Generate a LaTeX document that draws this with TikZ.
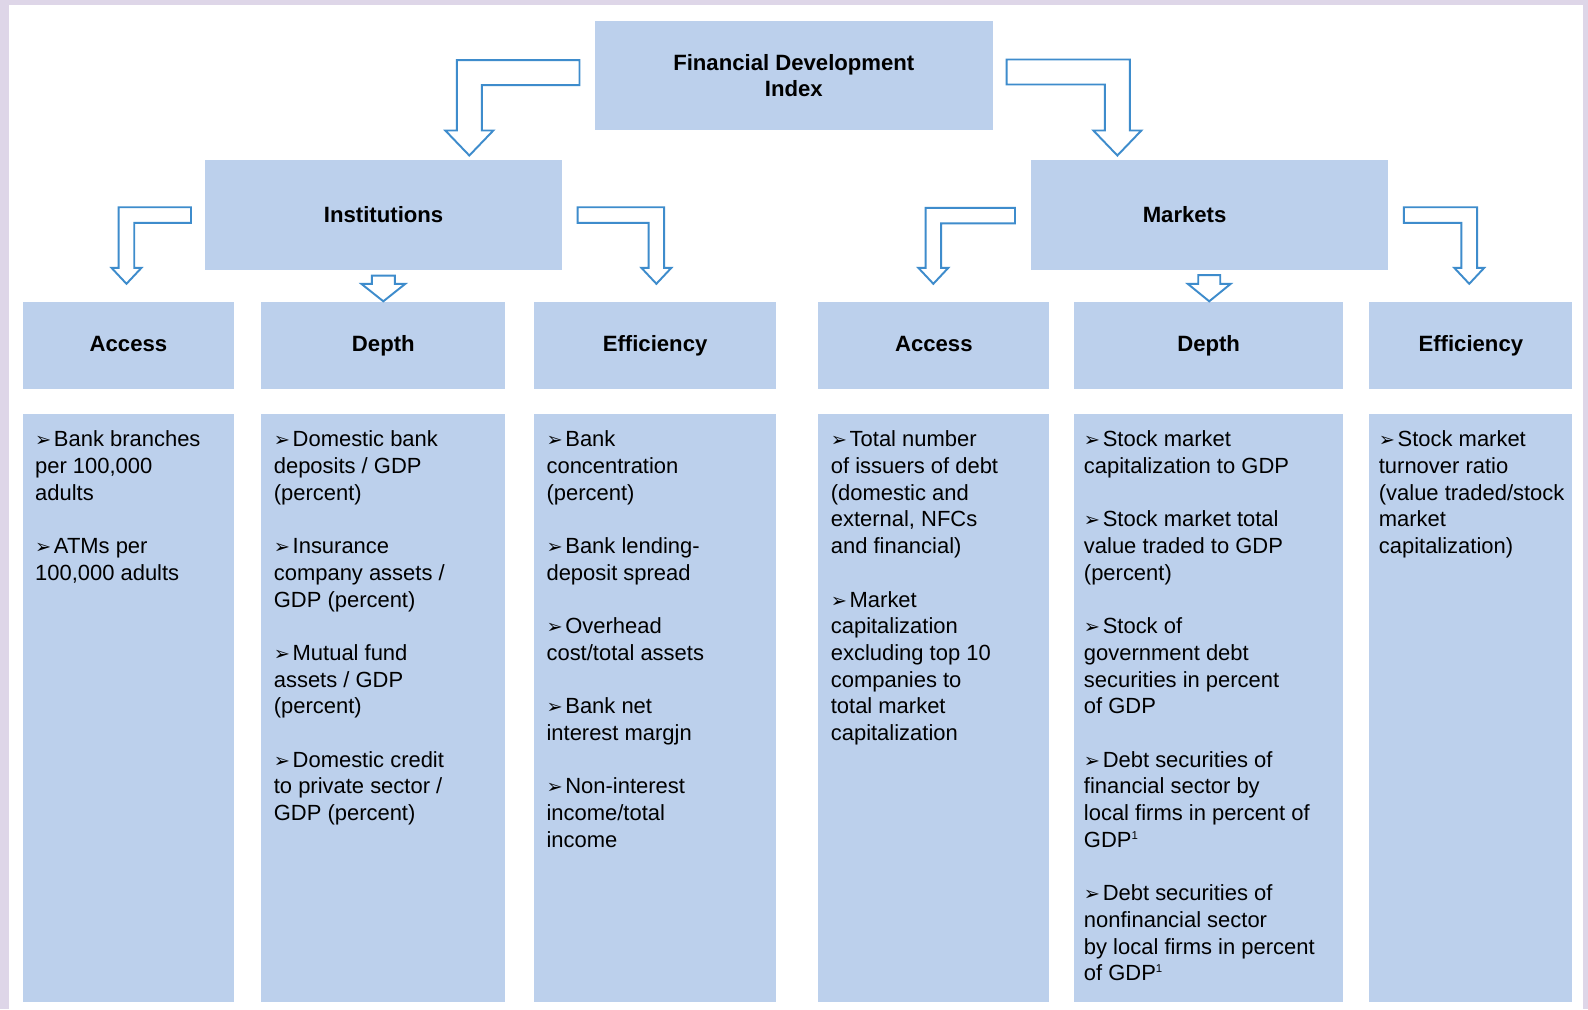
\documentclass[tikz,border=0pt]{standalone}
\usepackage{fontspec}
\setmainfont{Liberation Sans}
\newfontfamily\dingfont{DejaVu Sans}
\usetikzlibrary{calc}

\definecolor{boxblue}{RGB}{188,208,236}
\definecolor{arrowblue}{RGB}{62,140,204}
\definecolor{framelilac}{RGB}{222,214,232}

\newcommand{\pxu}{0.569055pt}
\newcommand{\itm}{{\dingfont\fontsize{11}{8}\selectfont ➢}\hspace{1.5pt}}
\newcommand{\fnote}{{\fontsize{6.5}{6}\selectfont\raisebox{4.5pt}{1}}}

% hollow bent arrow: start of bar, tip, half shaft, half head, head length
\newcommand{\bentarrow}[5]{%
  \draw[blockarrow] let \p1=(#1), \p2=(#2), \n1={sign(\x1-\x2)},
    \n2={#3*\pxu}, \n3={#4*\pxu}, \n4={#5*\pxu} in
    (\x1,{\y1+\n2}) -- ({\x2-(\n1)*\n2},{\y1+\n2}) -- ({\x2-(\n1)*\n2},{\y2+\n4})
    -- ({\x2-(\n1)*\n3},{\y2+\n4}) -- (\x2,\y2) -- ({\x2+(\n1)*\n3},{\y2+\n4})
    -- ({\x2+(\n1)*\n2},{\y2+\n4}) -- ({\x2+(\n1)*\n2},{\y1-\n2}) -- (\x1,{\y1-\n2}) -- cycle;}
% hollow straight arrow down
\newcommand{\droparrow}[5]{%
  \draw[blockarrow] let \p1=(#1), \p2=(#2),
    \n2={#3*\pxu}, \n3={#4*\pxu}, \n4={#5*\pxu} in
    ({\x2-\n2},\y1) -- ({\x2+\n2},\y1) -- ({\x2+\n2},{\y2+\n4}) -- ({\x2+\n3},{\y2+\n4})
    -- (\x2,\y2) -- ({\x2-\n3},{\y2+\n4}) -- ({\x2-\n2},{\y2+\n4}) -- cycle;}

\tikzset{
  box/.style={fill=boxblue, inner sep=0pt, anchor=north west, align=center,
    font=\fontsize{12.6}{15}\selectfont\bfseries},
  head/.style={box, minimum height=1.744cm, text height=9pt, text depth=2.6pt},
  listtxt/.style={inner sep=0pt, anchor=north west, align=left,
    font=\fontsize{12.5}{15.2}\selectfont},
  blockarrow/.style={draw=arrowblue, fill=white, line width=1.1pt}
}

\begin{document}
\begin{tikzpicture}[x=0.02cm,y=-0.02cm]
\fill[framelilac] (0,0) rectangle (1588,1009);
\fill[white] (9,4.5) rectangle (1583,1009);
\useasboundingbox (0,0) rectangle (1588,1009);

\node[box, minimum width=7.96cm, minimum height=2.186cm] (fdi) at (594.5,20.3) {Financial Development\\Index};
\node[box, minimum width=7.148cm, minimum height=2.188cm] (inst) at (204.6,160) {Institutions};
\node[box, minimum width=7.13cm, minimum height=2.188cm] (mkt) at (1031,160) {Markets\hspace*{1cm}};

%Cabeceras
\node[head, minimum width=4.234cm] (iacc) at (22.3,301.8) {Access};
\node[head, minimum width=4.88cm] (idep) at (261,301.8) {Depth};
\node[head, minimum width=4.842cm] (ieff) at (533.7,301.8) {Efficiency};
\node[head, minimum width=4.62cm] (macc) at (818,301.8) {Access};
\node[head, minimum width=5.388cm] (mdep) at (1073.6,301.8) {Depth};
\node[head, minimum width=4.06cm] (meff) at (1369,301.8) {Efficiency};

%Listas
\node[box, minimum width=4.234cm, minimum height=11.754cm] (iaccl) at (22.3,414) {};
\node[box, minimum width=4.88cm, minimum height=11.754cm] (idepl) at (261,414) {};
\node[box, minimum width=4.842cm, minimum height=11.754cm] (ieffl) at (533.7,414) {};
\node[box, minimum width=4.62cm, minimum height=11.754cm] (maccl) at (818,414) {};
\node[box, minimum width=5.388cm, minimum height=11.754cm] (mdepl) at (1073.6,414) {};
\node[box, minimum width=4.06cm, minimum height=11.754cm] (meffl) at (1369,414) {};

\node[listtxt] (iacct) at ($(iaccl.north west)+(12.5,16.5)$)
  {\itm Bank branches\\per 100,000\\adults\\[15.2pt]\itm ATMs per\\100,000 adults};
\node[listtxt] (idept) at ($(idepl.north west)+(12.5,16.5)$)
  {\itm Domestic bank\\deposits / GDP\\(percent)\\[15.2pt]\itm Insurance\\company assets /\\GDP (percent)\\[15.2pt]%
   \itm Mutual fund\\assets / GDP\\(percent)\\[15.2pt]\itm Domestic credit\\to private sector /\\GDP (percent)};
\node[listtxt] (iefft) at ($(ieffl.north west)+(12.5,16.5)$)
  {\itm Bank\\concentration\\(percent)\\[15.2pt]\itm Bank lending-\\deposit spread\\[15.2pt]\itm Overhead\\cost/total assets\\[15.2pt]%
   \itm Bank net\\interest margjn\\[15.2pt]\itm Non-interest\\income/total\\income};
\node[listtxt] (macct) at ($(maccl.north west)+(12.5,16.5)$)
  {\itm Total number\\of issuers of debt\\(domestic and\\external, NFCs\\and financial)\\[15.2pt]%
   \itm Market\\capitalization\\excluding top 10\\companies to\\total market\\capitalization};
\node[listtxt] (mdept) at ($(mdepl.north west)+(10,16.5)$)
  {\itm Stock market\\capitalization to GDP\\[15.2pt]\itm Stock market total\\value traded to GDP\\(percent)\\[15.2pt]%
   \itm Stock of\\government debt\\securities in percent\\of GDP\\[15.2pt]%
   \itm Debt securities of\\financial sector by\\local firms in percent of\\GDP\fnote\\[15.2pt]%
   \itm Debt securities of\\nonfinancial sector\\by local firms in percent\\of GDP\fnote};
\node[listtxt] (mefft) at ($(meffl.north west)+(9.5,16.5)$)
  {\itm Stock market\\turnover ratio\\(value traded/stock\\market\\capitalization)};

%Flechas
\bentarrow{$(fdi.west)+(-15,-2.7)$}{$(inst.north)+(85.7,-4.5)$}{12.5}{24}{25}
\bentarrow{$(fdi.east)+(13.5,-3.3)$}{$(mkt.north)+(-92.2,-4.5)$}{12.5}{24}{25}
\bentarrow{$(inst.west)+(-13.6,0)$}{$(iacc.north)+(-2,-18)$}{7.8}{15}{16}
\bentarrow{$(inst.east)+(15,0)$}{$(ieff.north)+(1.3,-18)$}{7.8}{15}{16}
\bentarrow{$(mkt.west)+(-16,0.6)$}{$(macc.north)+(-0.5,-18)$}{7.8}{15}{16}
\bentarrow{$(mkt.east)+(15.8,0)$}{$(meff.north)+(-1.6,-18)$}{7.8}{15}{16}
\droparrow{$(inst.south)+(0,5.6)$}{$(idep.north)+(0,-0.5)$}{11.5}{22}{17.5}
\droparrow{$(mkt.south)+(0,5)$}{$(mdep.north)+(0.6,-0.5)$}{11}{21.5}{17.5}
\end{tikzpicture}
\end{document}
